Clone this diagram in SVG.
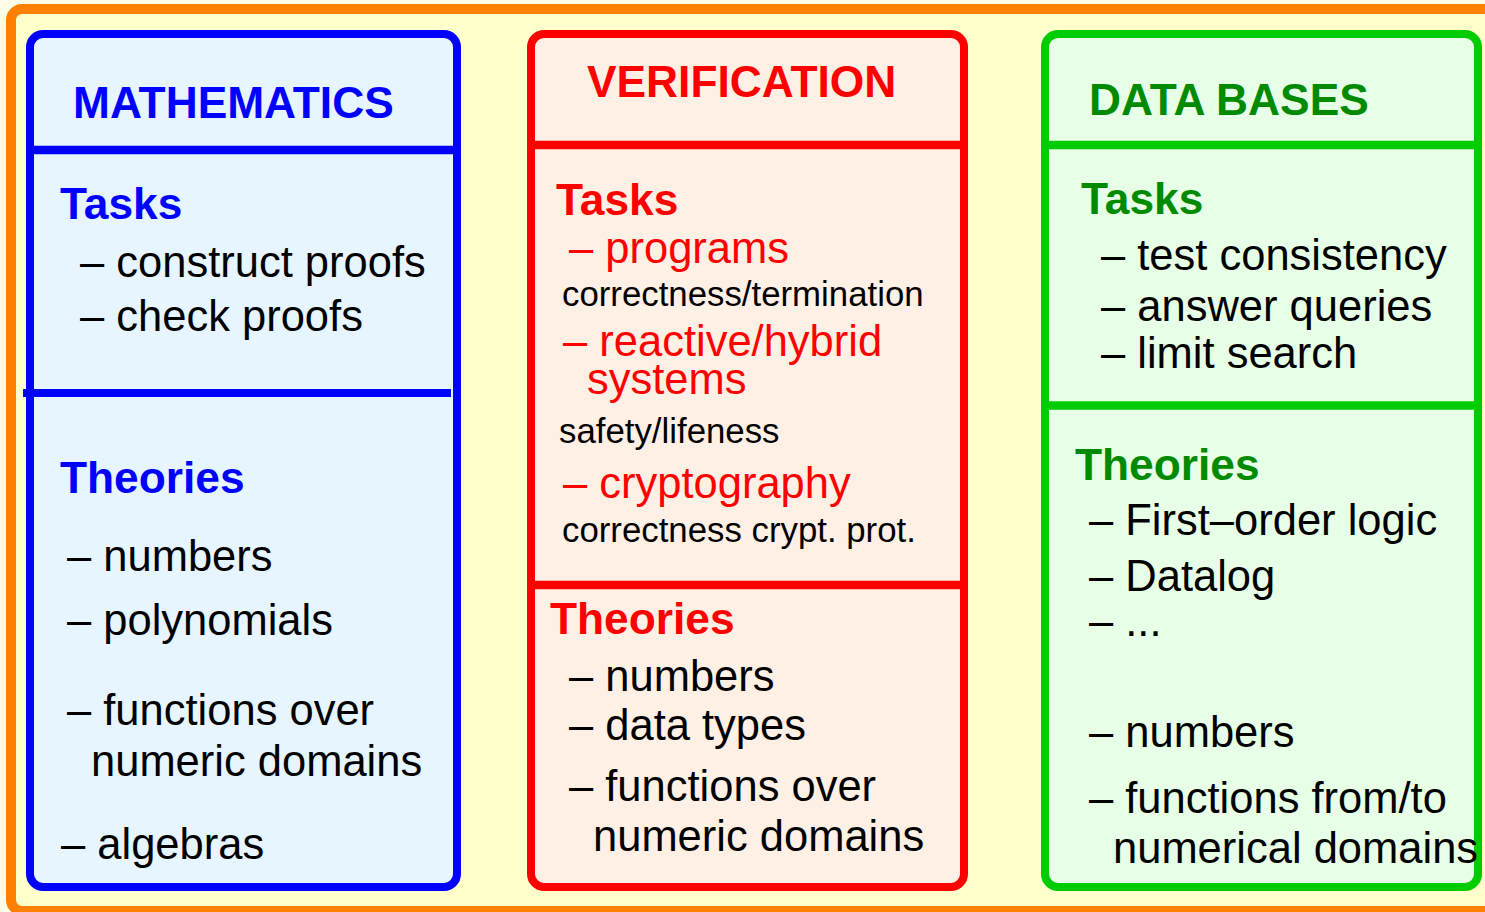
<svg xmlns="http://www.w3.org/2000/svg" width="1485" height="912" viewBox="0 0 1485 912">
<style>
text{font-family:"Liberation Sans",Arial,Helvetica,sans-serif;font-size:43.5px;fill:#000}
.h{font-weight:bold;font-size:44.3px}
.b{fill:#0000ff}.r{fill:#ff0000}.g{fill:#008a00}
.s{font-size:34.8px}
.bx{stroke-width:8}
</style>
<rect x="0" y="0" width="1485" height="912" fill="#fffbe6"/>
<rect id="frame" x="11" y="9" width="1490" height="902" rx="11" fill="#ffffcc" stroke="#ff7f00" stroke-width="10"/>
<g id="mathematics">
<rect class="bx" x="30" y="34" width="427" height="853" rx="13" fill="#e6f5ff" stroke="#0000ff"/>
<line x1="30" y1="150" x2="457" y2="150" stroke="#0000ff" stroke-width="8.5"/>
<line x1="23" y1="393" x2="451" y2="393" stroke="#0000ff" stroke-width="8"/>
<text class="h b" x="73" y="118">MATHEMATICS</text>
<text class="h b" x="60" y="219">Tasks</text>
<text x="80" y="277">– construct proofs</text>
<text x="80" y="331">– check proofs</text>
<text class="h b" x="60" y="493">Theories</text>
<text x="67" y="571">– numbers</text>
<text x="67" y="635">– polynomials</text>
<text x="67" y="725">– functions over</text>
<text x="91" y="776">numeric domains</text>
<text x="61" y="859">– algebras</text>
</g>
<g id="verification">
<rect class="bx" x="531" y="34" width="433" height="853" rx="13" fill="#fff0e6" stroke="#ff0000"/>
<line x1="531" y1="145" x2="964" y2="145" stroke="#ff0000" stroke-width="8.5"/>
<line x1="531" y1="585" x2="964" y2="585" stroke="#ff0000" stroke-width="8.5"/>
<text class="h r" x="587" y="97">VERIFICATION</text>
<text class="h r" x="556" y="215">Tasks</text>
<text class="r" x="569" y="263">– programs</text>
<text class="s" x="562" y="306">correctness/termination</text>
<text class="r" x="563" y="356">– reactive/hybrid</text>
<text class="r" x="587" y="394">systems</text>
<text class="s" x="559" y="443">safety/lifeness</text>
<text class="r" x="563" y="498">– cryptography</text>
<text class="s" x="562" y="542">correctness crypt. prot.</text>
<text class="h r" x="550" y="634">Theories</text>
<text x="569" y="691">– numbers</text>
<text x="569" y="740">– data types</text>
<text x="569" y="801">– functions over</text>
<text x="593" y="851">numeric domains</text>
</g>
<g id="databases">
<rect class="bx" x="1045" y="34" width="433" height="853" rx="13" fill="#e6ffe6" stroke="#00cc00"/>
<line x1="1045" y1="145" x2="1478" y2="145" stroke="#00cc00" stroke-width="8.5"/>
<line x1="1045" y1="405.5" x2="1478" y2="405.5" stroke="#00cc00" stroke-width="8.5"/>
<text class="h g" x="1089" y="115">DATA BASES</text>
<text class="h g" x="1081" y="214">Tasks</text>
<text x="1101" y="270">– test consistency</text>
<text x="1101" y="321">– answer queries</text>
<text x="1101" y="368">– limit search</text>
<text class="h g" x="1075" y="480">Theories</text>
<text x="1089" y="535">– First–order logic</text>
<text x="1089" y="591">– Datalog</text>
<text x="1089" y="636">– ...</text>
<text x="1089" y="747">– numbers</text>
<text x="1089" y="813">– functions from/to</text>
<text x="1113" y="863">numerical domains</text>
</g>
<g id="connectors"/>
</svg>
